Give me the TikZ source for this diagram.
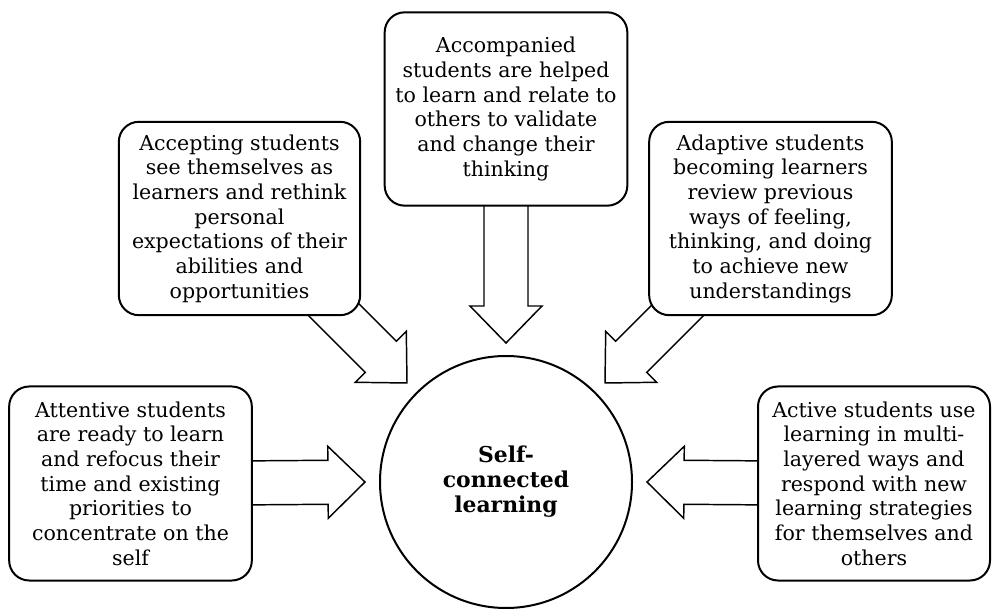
\documentclass[tikz,border=0pt]{standalone}
\usepackage{fontspec}
\setmainfont{DejaVu Serif}
\usetikzlibrary{calc}

% block arrow from a start point (inside a box) to a free tip
% #1 start, #2 tip, #3 name used for the helper coordinate
\newcommand\blockarrow[3]{%
  \coordinate (#3-h) at ($(#2)!27.75pt!(#1)$);
  \draw[barrow]
    ($(#1)!16.5pt!90:(#2)$) -- ($(#3-h)!16.5pt!90:(#2)$) --
    ($(#3-h)!27pt!90:(#2)$) -- (#2) --
    ($(#3-h)!27pt!-90:(#2)$) -- ($(#3-h)!16.5pt!-90:(#2)$) --
    ($(#1)!16.5pt!-90:(#2)$) -- cycle;
}

\tikzset{
  box/.style={draw, line width=1.5pt, rounded corners=15pt, fill=white,
    align=center, inner sep=0pt,
    font=\fontsize{15.4pt}{18.5pt}\selectfont},
  barrow/.style={draw, line width=1.1pt, fill=white, line join=miter},
  hub/.style={circle, draw, line width=1.5pt, fill=white, align=center,
    minimum size=189pt, inner sep=0pt,
    font=\fontsize{16.4pt}{18.8pt}\selectfont\bfseries},
}

\begin{document}
\begin{tikzpicture}[x=0.75pt, y=-0.75pt]
  \useasboundingbox (0,0) rectangle (992,609);

  % central circle
  \node[hub] (self) at (506,482) {Self-\\connected\\learning};

  % arrow tips around the circle
  \coordinate (tipL)  at ($(self.center)+(-141,0)$);
  \coordinate (tipR)  at ($(self.center)+(141,0)$);
  \coordinate (tipT)  at ($(self.center)+(0,-139)$);
  \coordinate (tipUL) at ($(self.center)+(-99,-99)$);
  \coordinate (tipUR) at ($(self.center)+(99,-99)$);

  % arrow starts, hidden under the boxes
  \coordinate (stL)  at (235,483);
  \coordinate (stR)  at (775,483);
  \coordinate (stT)  at (506,190);
  \coordinate (stUL) at ($(tipUL)+(-92,-92)$);
  \coordinate (stUR) at ($(tipUR)+(92,-92)$);

  \blockarrow{stL}{tipL}{aL}
  \blockarrow{stR}{tipR}{aR}
  \blockarrow{stT}{tipT}{aT}
  \blockarrow{stUL}{tipUL}{aUL}
  \blockarrow{stUR}{tipUR}{aUR}

  % text boxes
  \node[box, minimum width=182pt, minimum height=145.5pt] (attentive) at (130.5,483.5)
    {Attentive students\\are ready to learn\\and refocus their\\time and existing\\priorities to\\concentrate on the\\self};
  \node[box, minimum width=174pt, minimum height=145.5pt] (active) at (874,483.5)
    {Active students use\\learning in multi-\\layered ways and\\respond with new\\learning strategies\\for themselves and\\others};
  \node[box, minimum width=181pt, minimum height=145pt] (accepting) at (239.5,218.5)
    {Accepting students\\see themselves as\\learners and rethink\\personal\\expectations of their\\abilities and\\opportunities};
  \node[box, minimum width=182pt, minimum height=145pt] (adaptive) at (770.5,218.5)
    {Adaptive students\\becoming learners\\review previous\\ways of feeling,\\thinking, and doing\\to achieve new\\understandings};
  \node[box, minimum width=182pt, minimum height=145pt] (accompanied) at (506,109)
    {Accompanied\\students are helped\\to learn and relate to\\others to validate\\and change their\\thinking};
\end{tikzpicture}
\end{document}
